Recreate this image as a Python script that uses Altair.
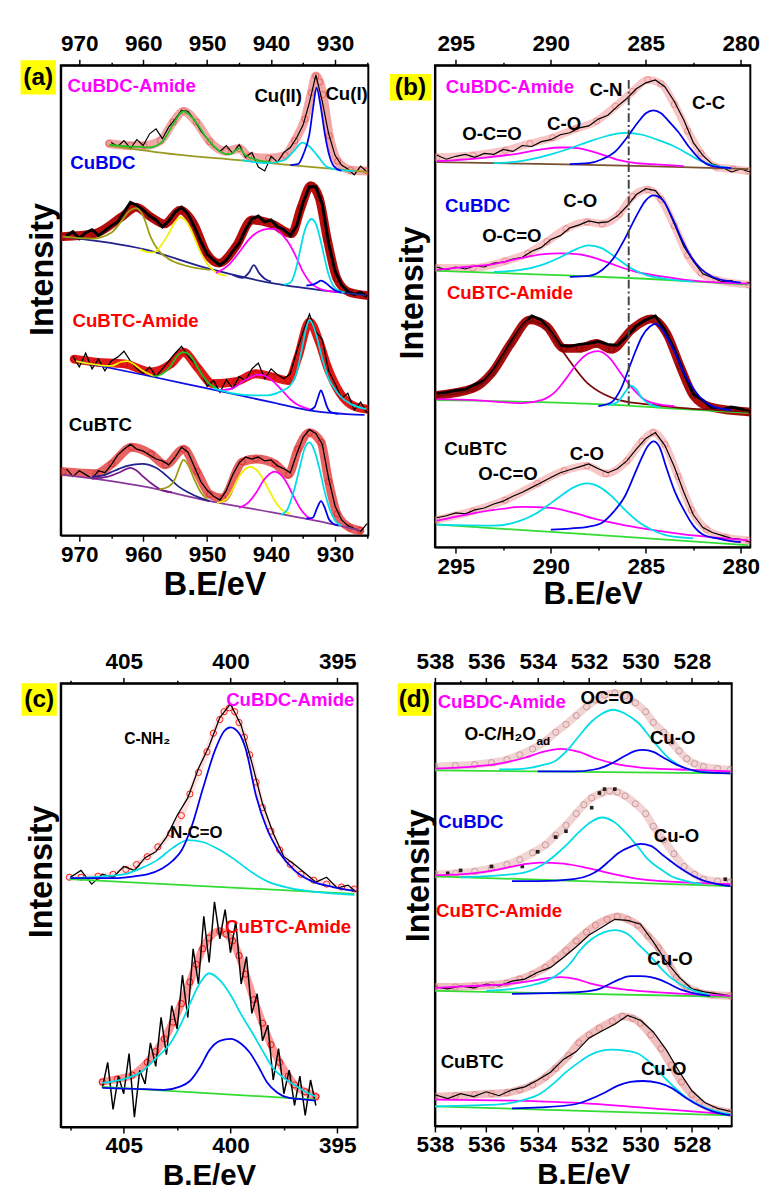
import altair as alt
import pandas as pd

FONT = "Liberation Sans"

# ------------------------------------------------------------------ (a) Cu 2p
A_RAW_X = [972, 971, 970, 969, 968, 967, 966, 965, 964, 963, 962, 961, 960, 959, 958, 957,
           956, 955, 954, 953, 952, 951, 950, 949, 948, 947, 946, 945, 944, 943, 942, 941,
           940, 939, 938, 937, 936, 935, 934, 933, 932, 931, 930, 929, 928, 927, 926, 925]
A1_RAW = [None] * 7 + [401, 397, 403, 395, 404, 398, 410, 415, 405, 417, 425, 434, 433, 424, 413, 405,
                       397, 392, 398, 390, 399, 386, 391, 376, 372, 387, 381, 391, 396, 406, 419, 442,
                       470, 443, 410, 388, 378, 374, 368, 377, 371]
A2_RAW = [306, 310, 303, 309, 312, 306, 311, 316, 320, 330, 340, 337, 332, 326, 322, 315,
          321, 330, 335, 328, 315, 300, 287, 281, 276, 281, 290, 298, 312, 323, 326, 320,
          322, 315, 312, 306, 316, 340, 356, 356, 338, 298, 270, 256, 249, 246, 248, 244]
A3_RAW = [None] + [183, 172, 186, 170, 180, 168, 178, 182, 188, 178, 170, 165, 172, 162, 170, 178,
                   186, 193, 183, 176, 167, 152, 158, 146, 159, 150, 162, 158, 170, 176, 160, 170,
                   164, 160, 165, 188, 208, 226, 208, 200, 168, 155, 140, 145, 128, 136, 125]
A4_RAW = [68, 60, 66, 62, 58, 66, 64, 72, 82, 88, 93, 88, 86, 82, 78, 76,
          72, 80, 90, 85, 70, 55, 46, 40, 36, 46, 62, 74, 80, 78, 80, 76,
          77, 71, 68, 64, 83, 100, 108, 104, 93, 58, 30, 16, 10, 7, 4, 12]

A1_ENV = [(965.3, 400), (962, 398), (959.9, 398), (957.3, 403), (955.3, 422), (953.7, 433), (951.7, 422),
          (949.6, 402), (947.1, 392), (945.0, 395), (943.5, 387), (940.4, 385), (937.8, 388), (936.3, 403),
          (934.7, 425), (933.7, 452), (933.0, 469), (932.4, 463), (931.9, 450), (930.9, 408), (929.6, 382),
          (927.6, 373), (925.0, 372)]
A1_BASE = [(965.3, 398), (955, 389), (945, 383), (937, 378), (925, 371)]
A1_GREEN = [(965.3, 399), (962, 397), (959, 396), (957, 402), (955.3, 420), (953.7, 433), (952, 424),
            (950, 405), (948, 392), (946.5, 389), (945, 395), (944, 388), (942, 383), (940, 381)]
A1_CYAN = [(944.5, 383), (940.5, 380), (938, 383), (936.5, 392), (935.1, 401), (934, 397), (932.8, 388),
           (931.2, 376), (929.2, 373), (927, 372)]
A1_BLUE = [(937, 378), (935.8, 379), (934.9, 390), (934.0, 410), (933.4, 438), (932.9, 457), (932.3, 440),
           (931.6, 410), (930.9, 388), (930.2, 377), (929, 372)]

A2_ENV = [(972.6, 305), (967.6, 308), (963.4, 325), (961.1, 335), (958.8, 325), (956.7, 318), (954.2, 332),
          (952.1, 318), (950.1, 288), (948.1, 278), (945.5, 295), (943.0, 322), (939.9, 318), (936.8, 308),
          (935.3, 335), (933.8, 357), (932.5, 345), (931.2, 302), (929.7, 262), (927.7, 248), (925.1, 245)]
A2_BASE = [(972.6, 305), (959.8, 292), (949.6, 272), (939.4, 257), (929.2, 248), (925.1, 245)]
A2_OLIVE = [(972.6, 305), (968, 303), (965, 309), (963.5, 320), (962.2, 331), (961.1, 334), (960, 326),
            (958.8, 304), (957.5, 290), (956.2, 283), (953.2, 275), (949.6, 271)]
A2_YELLOW = [(960.5, 292), (959, 289), (958.3, 289), (957.2, 296), (956.2, 306), (955.2, 318), (954.2, 325),
             (953.2, 320), (952.2, 307), (951.1, 290), (950, 277), (948.5, 268), (947, 265)]
A2_MAGENTA = [(948.6, 268), (946.5, 277), (945, 289), (943.5, 302), (942, 310), (940.5, 313), (939.5, 313),
              (938, 305), (937, 296), (936, 283), (935, 269), (934, 259), (932.5, 252), (930.5, 249), (929, 248)]
A2_NAVY = [(946, 266), (944.5, 263), (943.5, 268), (942.7, 276), (941.9, 268), (941, 262), (940, 259)]
A2_CYAN = [(938, 256), (937, 258), (936.2, 270), (935.5, 290), (934.8, 310), (934.2, 320), (933.7, 323),
           (933, 318), (932.3, 302), (931.6, 282), (931, 266), (930.3, 255), (929.5, 250), (928.5, 248)]
A2_BLUE = [(934.5, 255), (933.5, 256), (932.8, 258), (932.2, 260), (931.5, 258), (930.8, 254), (930, 250), (929, 248)]

A3_ENV = [(970.8, 180), (967.4, 177), (962.9, 175), (958.8, 167), (955.7, 175), (953.7, 187), (951.6, 172),
          (949.1, 155), (945.5, 157), (942.4, 165), (939.9, 162), (937.3, 158), (935.8, 182), (934.0, 218),
          (932.5, 198), (931.2, 172), (929.2, 145), (927.1, 132), (925.1, 129)]
A3_BASE = [(970.5, 178), (960, 164), (950, 150), (940, 136), (934.3, 128), (925.4, 123)]
A3_YELLOW = [(970.5, 178), (967, 174), (965, 173), (963.5, 177), (962.5, 178), (961.5, 175), (960.5, 170),
             (959.5, 166), (958.5, 163)]
A3_GREEN = [(958.5, 162), (957, 165), (955.7, 173), (954.7, 183), (953.7, 187), (952.7, 184), (951.7, 174),
            (950.6, 162), (949.5, 154), (948.5, 150)]
A3_MAGENTA = [(948, 148), (946, 150), (944.5, 157), (943, 162), (942, 164), (941, 163), (940, 159), (939, 153),
              (938, 146), (937, 139), (936, 134), (935, 131), (934, 129)]
A3_CYAN = [(949, 150), (946, 145), (943, 143), (940.5, 143), (938.5, 147), (937, 153), (936, 166), (935.2, 190),
           (934.5, 212), (934, 220), (933.4, 214), (932.6, 196), (931.8, 176), (931, 160), (930, 149), (929, 141),
           (927.5, 134), (925.1, 129)]
A3_BLUE = [(934, 128), (933.2, 131), (932.7, 140), (932.2, 148), (931.8, 142), (931.3, 132), (930.7, 126), (929.5, 124)]

A4_ENV = [(972.6, 65), (967.4, 63), (964.9, 73), (961.8, 90), (958.8, 83), (956.5, 72), (953.7, 88), (951.6, 65),
          (949.6, 42), (947.6, 38), (944.5, 75), (942.4, 78), (939.4, 73), (937.3, 62), (935.8, 88), (934.0, 105),
          (932.2, 95), (931.0, 55), (929.7, 22), (927.7, 8), (926.1, 5)]
A4_BASE = [(972.6, 62), (960, 50), (949.6, 35), (939.4, 23), (930, 11), (926.1, 5)]
A4_PURPLE = [(968, 58), (965.5, 60), (963.5, 65), (962, 69), (961, 66), (960, 60), (958.5, 52), (957, 46), (955.5, 44)]
A4_NAVY = [(968, 60), (966.4, 61), (964.5, 66), (962.5, 71), (960.1, 73), (958, 69), (956.2, 60), (954.5, 50),
           (953, 44), (951, 38), (949.6, 35)]
A4_OLIVE = [(957.5, 47), (956, 50), (955, 58), (954.3, 70), (953.7, 77), (953, 72), (952, 57), (951, 44), (950, 37)]
A4_YELLOW = [(948.5, 33), (947, 37), (946, 47), (945, 60), (944, 68), (943.3, 70), (942.3, 67), (941.3, 58),
             (940.3, 46), (939.3, 34), (938.3, 26), (937, 22)]
A4_MAGENTA = [(945, 28), (943.5, 34), (942.3, 44), (941.2, 56), (940.2, 63), (939.4, 65), (938.5, 62), (937.5, 53),
              (936.5, 40), (935.5, 28), (934.5, 20), (933.5, 16)]
A4_CYAN = [(938.5, 21), (937.5, 26), (936.5, 44), (935.5, 70), (934.8, 88), (934, 95), (933.2, 86), (932.4, 67),
           (931.6, 44), (930.8, 26), (930, 15), (929, 10)]
A4_BLUE = [(934.5, 17), (933.5, 18), (932.8, 28), (932.2, 35), (931.6, 28), (931, 17), (930.3, 12), (929.5, 10)]

# ------------------------------------------------------------------ (b) C 1s
B_RAW_X = [296, 295.5, 295, 294.5, 294, 293.5, 293, 292.5, 292, 291.5, 291, 290.5, 290, 289.5, 289, 288.5, 288,
           287.5, 287, 286.5, 286, 285.5, 285, 284.5, 284, 283.5, 283, 282.5, 282, 281.5, 281, 280.5, 280, 279.5]
B1_RAW = [400, 396, 399, 401, 398, 402, 401, 406, 404, 410, 409, 414, 416, 421, 423, 428, 430,
          437, 441, 450, 458, 468, 474, 477, 470, 455, 436, 413, 400, 391, 388, 383, 386, 383]
B2_RAW = [286, 283, 286, 284, 287, 286, 290, 291, 294, 296, 302, 306, 314, 318, 326, 329, 333,
          331, 332, 338, 348, 360, 366, 364, 352, 330, 307, 292, 279, 275, 271, 272, 268, 270]
B3_RAW = [157, 158, 160, 161, 166, 170, 181, 196, 212, 226, 236, 232, 220, 206, 205, 207, 208,
          210, 207, 206, 215, 226, 232, 236, 222, 202, 178, 156, 150, 142, 140, 143, 141, 138]
B4_RAW = [30, 32, 35, 34, 38, 40, 44, 47, 52, 56, 61, 66, 71, 76, 79, 82, 85,
          80, 76, 80, 88, 100, 111, 117, 104, 82, 56, 33, 20, 15, 12, 9, 8, 5]

B1_ENV = [(296.0, 398), (294.1, 400), (292.4, 405), (291.1, 412), (289.9, 418), (288.7, 427), (287.6, 435),
          (286.6, 450), (285.7, 465), (284.9, 477), (284.2, 473), (283.5, 452), (282.8, 425), (282.1, 402),
          (281.3, 388), (280.4, 386), (279.6, 384)]
B1_BASE = [(296, 393), (290, 391), (285, 389), (279.6, 386)]
B1_MAGENTA = [(296, 394), (293.3, 398), (292, 401), (290.5, 406), (289.5, 408), (289, 408), (288.5, 407),
              (287.5, 402), (286.4, 395), (285.5, 392), (284.7, 391), (283, 389)]
B1_CYAN = [(293, 392), (291.6, 394), (290, 401), (289, 407), (288, 414), (287, 420), (286.1, 423), (285.2, 421),
           (284.4, 416), (283.6, 410), (283, 404), (282.3, 396), (281.5, 390), (280.5, 387)]
B1_BLUE = [(289, 391), (288, 392), (287.3, 396), (286.6, 404), (286, 418), (285.4, 434), (285, 443), (284.6, 446),
           (284.2, 443), (283.8, 435), (283.3, 424), (282.7, 408), (282.1, 395), (281.5, 389), (280.5, 387)]

B2_ENV = [(296.0, 285), (294.1, 285), (292.4, 292), (291.2, 300), (290.2, 312), (289.2, 325), (288.1, 332),
          (287.3, 330), (286.4, 340), (285.7, 358), (284.9, 365), (284.2, 355), (283.5, 328), (282.8, 298),
          (282.1, 280), (281.3, 273), (279.6, 268)]
B2_BASE = [(296, 282), (290, 278), (285, 274), (279.6, 268)]
B2_MAGENTA = [(296, 283), (294.5, 286), (293, 289), (291.6, 295), (290.5, 299), (289.5, 300), (288.5, 299),
              (287.5, 294), (286.5, 287), (285.5, 281), (284, 276), (282.5, 272), (281, 270), (279.6, 269)]
B2_CYAN = [(293, 281), (291.6, 283), (290.5, 288), (289.5, 296), (288.8, 303), (288, 308), (287.3, 305),
           (286.6, 296), (285.8, 285), (285, 278), (284, 274), (282.5, 271)]
B2_BLUE = [(289, 276), (288, 277), (287.3, 283), (286.7, 295), (286.1, 315), (285.5, 338), (285, 354), (284.6, 359),
           (284.1, 354), (283.6, 336), (283.1, 314), (282.6, 296), (282.1, 284), (281.5, 276), (280.8, 272), (280, 270)]

B3_ENV = [(296.0, 155), (294.1, 162), (293.1, 178), (292.1, 208), (291.1, 232), (290.2, 225), (289.3, 203),
          (288.5, 203), (287.6, 208), (286.8, 202), (285.7, 223), (284.7, 233), (283.9, 218), (283.2, 185),
          (282.5, 155), (281.6, 143), (279.6, 138)]
B3_BASE = [(296, 150), (286.4, 145), (284, 142), (279.6, 137)]
B3_BROWN = [(296, 154), (294.1, 161), (293.1, 177), (292.1, 207), (291.1, 231), (290.2, 223), (289.3, 198),
            (288.1, 168), (287.2, 156), (286.4, 150), (284.5, 145), (283, 142), (281.3, 140), (279.6, 138)]
B3_MAGENTA = [(296, 151), (294, 150), (292.5, 148), (291.5, 147), (290.5, 150), (289.8, 158), (289.2, 172),
              (288.6, 188), (288, 198), (287.5, 200), (286.9, 193), (286.3, 177), (285.7, 162), (285.1, 151),
              (284.4, 146), (283.5, 144)]
B3_CYAN = [(287, 145), (286.5, 148), (286.1, 158), (285.8, 165), (285.5, 161), (285.2, 152), (284.8, 146), (284.3, 143)]
B3_BLUE = [(287.5, 144), (286.8, 148), (286.3, 162), (285.9, 182), (285.5, 202), (285.2, 215), (284.8, 225),
           (284.5, 228), (284.2, 224), (283.9, 215), (283.4, 196), (283, 178), (282.5, 162), (282.1, 152),
           (281.5, 144), (280.5, 140)]

B4_ENV = [(296.0, 28), (294.1, 37), (292.4, 48), (290.7, 65), (289.3, 78), (288.1, 83), (287.1, 75), (286.0, 88),
          (285.2, 108), (284.6, 117), (284.0, 105), (283.3, 72), (282.6, 38), (281.8, 18), (280.8, 10), (279.6, 7)]
B4_BASE = [(296, 23), (288, 13), (279.6, 2)]
B4_MAGENTA = [(296, 27), (294.5, 33), (293, 38), (291.5, 41), (290, 40), (288.8, 35), (287.5, 28), (286, 22),
              (284.5, 17), (283, 13), (281.5, 10), (279.6, 7)]
B4_CYAN = [(296, 23), (293, 22), (291.6, 27), (290.8, 34), (290.2, 42), (289.5, 52), (288.8, 61), (288.1, 65),
           (287.4, 61), (286.8, 52), (286.1, 38), (285.4, 26), (284.6, 17), (283.9, 12), (282.5, 9)]
B4_BLUE = [(290, 18), (289, 19), (288, 21), (287.3, 25), (286.7, 36), (286.1, 52), (285.6, 74), (285.2, 92),
           (284.9, 103), (284.6, 108), (284.3, 103), (283.9, 80), (283.5, 58), (283, 38), (282.5, 22), (282, 13),
           (281, 8), (280, 5)]

# ------------------------------------------------------------------ (c) N 1s
C1_RAW_X = [407.5, 407, 406.5, 406, 405.5, 405, 404.5, 404, 403.5, 403, 402.5, 402, 401.5, 401, 400.5, 400,
            399.5, 399, 398.5, 398, 397.5, 397, 396.5, 396, 395.5, 395, 394.5, 394.1]
C1_RAW = [255, 262, 248, 258, 255, 266, 262, 275, 281, 296, 318, 336, 366, 389, 418, 432,
          410, 372, 330, 300, 276, 268, 259, 250, 255, 244, 247, 240]
C2_RAW_X = [406, 405.75, 405.5, 405.25, 405, 404.75, 404.5, 404.25, 404, 403.75, 403.5, 403.25, 403, 402.75,
            402.5, 402.25, 402, 401.75, 401.5, 401.25, 401, 400.75, 400.5, 400.25, 400, 399.75, 399.5, 399.25,
            399, 398.75, 398.5, 398.25, 398, 397.75, 397.5, 397.25, 397, 396.75, 396.5, 396.25, 396]
C2_RAW = [40, 66, 18, 52, 34, 75, 10, 58, 44, 86, 62, 112, 74, 124, 100, 155, 112, 182, 146, 215, 168,
          230, 192, 222, 178, 210, 146, 174, 116, 136, 88, 104, 48, 80, 34, 58, 22, 52, 12, 48, 22]

C1_ENV = [(407.55, 255), (407, 255), (406.2, 256), (405.5, 258), (404.9, 263), (404.4, 268), (403.9, 276),
          (403.4, 286), (402.8, 300), (402.3, 318), (401.9, 340), (401.5, 362), (401.1, 383), (400.8, 402),
          (400.5, 416), (400.3, 424), (400.05, 428), (399.8, 424), (399.6, 413), (399.35, 398), (399.1, 380),
          (398.8, 352), (398.5, 326), (398.1, 302), (397.7, 283), (397.2, 268), (396.7, 258), (396.1, 252),
          (395.5, 248), (394.8, 245), (394.2, 243)]
C1_BASE = [(407.55, 253), (394.2, 238)]
C1_CYAN = [(407.5, 254), (406, 256), (405, 258), (404.2, 264), (403.4, 273), (402.7, 285), (402, 293), (401.3, 291),
           (400.6, 284), (399.8, 273), (399, 260), (398.2, 250), (397.2, 244), (396, 240), (394.2, 237)]
C1_BLUE = [(407.5, 254), (405.5, 254), (404.5, 256), (403.9, 258), (403.2, 264), (402.7, 272), (402.3, 282),
           (401.8, 308), (401.3, 345), (400.7, 386), (400.3, 404), (400, 408), (399.6, 402), (399.3, 387),
           (398.8, 338), (398.3, 305), (397.7, 280), (397, 262), (396.2, 251), (395.2, 245), (394.2, 241)]

C2_ENV = [(406.0, 46), (405.3, 49), (404.6, 53), (403.9, 66), (403.5, 77), (403.1, 90), (402.7, 107), (402.3, 126),
          (401.9, 148), (401.6, 166), (401.3, 182), (401.0, 193), (400.5, 200), (400.2, 197), (399.9, 190),
          (399.6, 175), (399.3, 156), (398.9, 130), (398.5, 106), (398.1, 84), (397.7, 66), (397.3, 52),
          (397.0, 43), (396.5, 36), (396.0, 31)]
C2_BASE = [(406, 41), (396, 28)]
C2_CYAN = [(406, 45), (405, 49), (404.2, 56), (403.5, 70), (402.8, 86), (402.3, 106), (401.9, 126), (401.4, 148),
           (401, 157), (400.5, 150), (400, 135), (399.5, 115), (399, 97), (398.5, 78), (398, 60), (397.5, 50),
           (397, 43), (396.5, 36), (396, 31)]
C2_BLUE = [(406, 40), (404.5, 39), (403.1, 38), (402.4, 41), (401.9, 47), (401.4, 62), (401, 78), (400.5, 88),
           (400, 90), (399.5, 85), (399.1, 76), (398.7, 62), (398.3, 46), (397.8, 35), (397.3, 30), (396.5, 28), (396, 27)]

# ------------------------------------------------------------------ (d) O 1s
D_RAW_X = [538, 537.5, 537, 536.5, 536, 535.5, 535, 534.5, 534, 533.5, 533, 532.5, 532, 531.5, 531, 530.5,
           530, 529.5, 529, 528.5, 528, 527.5, 527, 526.5]
D3_RAW = [142, 140, 143, 141, 145, 143, 148, 150, 157, 162, 172, 183, 195, 203, 211, 210,
          206, 188, 168, 152, 140, 137, 135, 133]
D4_RAW = [32, 28, 33, 30, 35, 31, 37, 40, 47, 55, 68, 76, 90, 97, 104, 113,
          108, 96, 78, 56, 36, 24, 18, 15]
D2_DOTS = [(537.5, 258), (537.0, 261), (535.8, 265), (534.6, 265), (534.0, 280), (533.3, 295), (532.9, 301),
           (531.9, 325), (531.6, 340), (531.4, 344), (531.0, 344), (526.7, 252)]

D1_ENV = [(538.0, 367), (537.2, 368), (536.45, 369), (535.8, 371), (535.2, 374), (534.7, 379), (534.2, 385),
          (533.7, 393), (533.3, 402), (532.9, 410), (532.5, 419), (532.1, 428), (531.75, 435), (531.4, 440),
          (531.0, 442), (530.6, 439), (530.2, 432), (529.8, 423), (529.5, 412), (529.1, 402), (528.8, 392),
          (528.5, 383), (528.2, 375), (527.9, 370), (527.55, 367), (527, 365), (526.5, 364)]
D1_BASE = [(538, 363), (526.5, 360)]
D1_MAGENTA = [(538, 365), (536.5, 367), (535.5, 370), (534.5, 376), (533.8, 382), (533.1, 385), (532.4, 382),
              (531.7, 375), (531, 370), (530, 366), (528.5, 364), (526.5, 362)]
D1_CYAN = [(535.5, 364), (534.5, 365), (533.9, 368), (533.3, 373), (532.8, 385), (532.4, 398), (531.9, 413),
           (531.5, 421), (531.05, 425), (530.6, 421), (530.1, 412), (529.5, 393), (529, 378), (528.6, 370),
           (528, 363), (527.3, 361)]
D1_BLUE = [(534, 362), (532.6, 362), (531.8, 364), (531.4, 367), (531, 372), (530.6, 378), (530.2, 383),
           (529.9, 384), (529.5, 382), (529.1, 376), (528.6, 369), (528.2, 365), (527.5, 361), (526.5, 360)]

D2_ENV = [(538, 257), (537.2, 258), (536.45, 260), (535.8, 263), (535.2, 267), (534.7, 272), (534.2, 279),
          (533.7, 287), (533.3, 297), (532.9, 307), (532.5, 319), (532.2, 328), (531.9, 335), (531.5, 340),
          (531.2, 342), (530.9, 341), (530.6, 337), (530.2, 329), (529.8, 319), (529.5, 306), (529.1, 292),
          (528.7, 278), (528.3, 265), (527.9, 257), (527.55, 252), (527, 250), (526.5, 249)]
D2_BASE = [(538, 255), (526.5, 245)]
D2_MAGENTA = [(538, 256), (536.5, 258), (535.5, 262), (534.6, 267), (533.9, 269), (533, 268), (532, 263),
              (531, 257), (530, 252), (528.5, 249), (526.5, 247)]
D2_CYAN = [(537, 254), (535.5, 256), (534.5, 259), (533.8, 267), (533.3, 277), (532.8, 289), (532.4, 300),
           (531.9, 311), (531.5, 315), (531, 310), (530.6, 300), (530.1, 285), (529.7, 272), (529.2, 262),
           (528.8, 255), (528.2, 250), (527.6, 247)]
D2_BLUE = [(535, 250), (533.9, 250), (532.6, 252), (532, 256), (531.6, 262), (531.2, 271), (530.9, 278),
           (530.4, 285), (530, 288), (529.6, 286), (529.1, 276), (528.6, 266), (528.2, 259), (527.6, 251),
           (527, 247), (526.5, 245)]

D3_ENV = [(538, 142), (537.2, 142), (536.45, 143), (535.8, 144), (535.2, 146), (534.7, 150), (534.2, 155),
          (533.7, 162), (533.3, 170), (532.9, 179), (532.5, 189), (532.1, 198), (531.75, 205), (531.3, 211),
          (530.9, 214), (530.5, 211), (530.1, 205), (529.7, 194), (529.3, 182), (528.9, 166), (528.6, 152),
          (528.2, 142), (527.8, 137), (527.2, 134), (526.5, 133)]
D3_BASE = [(538, 138), (526.5, 132)]
D3_MAGENTA = [(538, 141), (536.5, 143), (535.2, 145), (534.3, 148), (533.6, 151), (533.1, 152), (532.5, 150),
              (532, 146), (531.3, 142), (530.5, 139), (529, 136), (526.5, 133)]
D3_CYAN = [(536, 138), (535, 140), (534.2, 144), (533.6, 149), (533.15, 156), (532.7, 167), (532.4, 178),
           (531.9, 191), (531.4, 198), (531, 200), (530.5, 196), (530.1, 186), (529.6, 173), (529.2, 161),
           (528.8, 151), (528.4, 144), (527.9, 138), (527.3, 134)]
D3_BLUE = [(535, 135), (533.3, 136), (532.3, 137), (531.6, 140), (531.2, 145), (530.8, 150), (530.4, 153),
           (530, 153), (529.6, 152), (529.2, 149), (528.8, 144), (528.4, 139), (528, 136), (527.3, 133)]

D4_ENV = [(538, 30), (537.2, 31), (536.45, 32), (535.8, 33), (535.2, 34), (534.7, 37), (534.2, 42), (533.7, 50),
          (533.3, 59), (532.8, 72), (532.4, 85), (532, 93), (531.6, 100), (531.1, 107), (530.7, 112), (530.3, 110),
          (530.0, 105), (529.6, 93), (529.2, 79), (528.8, 62), (528.4, 45), (528, 32), (527.7, 24), (527.1, 17),
          (526.5, 14)]
D4_BASE = [(538, 20), (526.5, 11)]
D4_MAGENTA = [(538, 27), (535, 26), (532, 23), (529, 17), (526.5, 12)]
D4_CYAN = [(538, 20), (536.5, 21), (535.2, 23), (534.5, 27), (533.9, 33), (533.4, 43), (532.9, 55), (532.4, 65),
           (532, 72), (531.5, 77), (531.1, 78), (530.6, 77), (530.1, 74), (529.6, 64), (529.2, 53), (528.7, 40),
           (528.2, 29), (527.5, 19), (526.5, 12)]
D4_BLUE = [(535, 18), (533.9, 19), (532.6, 22), (532, 27), (531.4, 34), (530.9, 41), (530.4, 45), (529.9, 46),
           (529.3, 44), (528.8, 39), (528.3, 30), (527.8, 22), (527.2, 15), (526.5, 11)]

# ------------------------------------------------------------------ text labels (text, eV, intensity)
A_LABELS = [("CuBDC-Amide", 961.8, 459), ("Cu(II)", 938.9, 448), ("Cu(I)", 928.2, 450),
            ("CuBDC", 966.3, 380), ("CuBTC-Amide", 961.2, 219), ("CuBTC", 966.7, 113)]
B_LABELS = [("CuBDC-Amide", 292.15, 470), ("C-N", 287.1, 467), ("C-C", 281.7, 453), ("C-O", 289.3, 432),
            ("O-C=O", 293.1, 422), ("CuBDC", 293.85, 348), ("C-O", 288.45, 353), ("O-C=O", 292.05, 318),
            ("CuBTC-Amide", 292.15, 259), ("CuBTC", 293.95, 100), ("C-O", 288.1, 95), ("O-C=O", 292.25, 75)]
C_LABELS = [("CuBDC-Amide", 397.2, 436), ("C-NH₂", 403.9, 396), ("N-C=O", 401.6, 300), ("CuBTC-Amide", 397.3, 204)]
D_LABELS = [("CuBDC-Amide", 535.4, 433), ("OC=O", 531.3, 437), ("O-C/H₂O", 535.46, 399), ("ad", 533.78, 393),
            ("Cu-O", 528.75, 396), ("CuBDC", 536.6, 310), ("Cu-O", 528.6, 296), ("CuBTC-Amide", 535.5, 219),
            ("Cu-O", 528.85, 170), ("CuBTC", 536.55, 65), ("Cu-O", 529.1, 58)]
B_DASH = [(285.9, 145), (285.9, 480)]

# ------------------------------------------------------------------ styles
CYAN, BLUE, MAG, YEL = "#00dde6", "#0000ee", "#ff00ff", "#f0f000"
OLIVE, GREEN, NAVY, PURPLE, BROWN, LGREEN = "#9c9c10", "#22c022", "#22228c", "#7a1a8a", "#7a0a0a", "#33dd33"
RED, BLACK = "#ff0000", "#000000"

SPECTRA = {
    "a": [
        dict(cid="a1", env=A1_ENV, band=("#e65050", 0.5, 9), circ=("#e03030", 0.6), raw=(A_RAW_X, A1_RAW, 1.2),
             comps=[(A1_BASE, "#9a9a22"), (A1_GREEN, GREEN), (A1_CYAN, CYAN), (A1_BLUE, BLUE)]),
        dict(cid="a2", env=A2_ENV, band=("#b40000", 0.95, 9), circ=("#8a0000", 0.8), raw=(A_RAW_X, A2_RAW, 3),
             comps=[(A2_BASE, NAVY), (A2_OLIVE, OLIVE), (A2_YELLOW, YEL), (A2_MAGENTA, MAG), (A2_NAVY, NAVY),
                    (A2_CYAN, CYAN), (A2_BLUE, BLUE)]),
        dict(cid="a3", env=A3_ENV, band=("#e00000", 0.9, 9), circ=("#c00000", 0.7), raw=(A_RAW_X, A3_RAW, 1.3),
             comps=[(A3_BASE, "#1010e0"), (A3_YELLOW, YEL), (A3_GREEN, GREEN), (A3_MAGENTA, MAG), (A3_CYAN, CYAN),
                    (A3_BLUE, BLUE)]),
        dict(cid="a4", env=A4_ENV, band=("#e02020", 0.7, 9), circ=("#d01010", 0.6), raw=(A_RAW_X, A4_RAW, 1.3),
             comps=[(A4_BASE, "#8a3a9a"), (A4_PURPLE, PURPLE), (A4_NAVY, NAVY), (A4_OLIVE, OLIVE), (A4_YELLOW, YEL),
                    (A4_MAGENTA, MAG), (A4_CYAN, CYAN), (A4_BLUE, BLUE)]),
    ],
    "b": [
        dict(cid="b1", env=B1_ENV, band=("#f08080", 0.45, 8), circ=("#e05050", 0.5), raw=(B_RAW_X, B1_RAW, 1.2),
             comps=[(B1_BASE, "#7a5030"), (B1_MAGENTA, MAG), (B1_CYAN, CYAN), (B1_BLUE, BLUE)]),
        dict(cid="b2", env=B2_ENV, band=("#f08080", 0.45, 8), circ=("#e05050", 0.5), raw=(B_RAW_X, B2_RAW, 1.2),
             comps=[(B2_BASE, LGREEN), (B2_MAGENTA, MAG), (B2_CYAN, CYAN), (B2_BLUE, BLUE)]),
        dict(cid="b3", env=B3_ENV, band=("#a80000", 0.95, 9), circ=("#800000", 0.8), raw=(B_RAW_X, B3_RAW, 3),
             comps=[(B3_BASE, LGREEN), (B3_BROWN, BROWN), (B3_MAGENTA, MAG), (B3_CYAN, CYAN), (B3_BLUE, BLUE)]),
        dict(cid="b4", env=B4_ENV, band=("#f08080", 0.45, 8), circ=("#e05050", 0.5), raw=(B_RAW_X, B4_RAW, 1.2),
             comps=[(B4_BASE, LGREEN), (B4_MAGENTA, MAG), (B4_CYAN, CYAN), (B4_BLUE, BLUE)]),
    ],
    "c": [
        dict(cid="c1", env=C1_ENV, band=("#ff6060", 0.2, 6), circ=("#ff0000", 0.9), raw=(C1_RAW_X, C1_RAW, 1.3),
             comps=[(C1_BASE, LGREEN), (C1_CYAN, CYAN), (C1_BLUE, BLUE)]),
        dict(cid="c2", env=C2_ENV, band=("#ff3030", 0.5, 8), circ=("#ee0000", 0.9), raw=(C2_RAW_X, C2_RAW, 1.5),
             comps=[(C2_BASE, LGREEN), (C2_CYAN, CYAN), (C2_BLUE, BLUE)]),
    ],
    "d": [
        dict(cid="d1", env=D1_ENV, band=("#e0a0a0", 0.45, 8), circ=("#c08080", 0.7), raw=None,
             comps=[(D1_BASE, LGREEN), (D1_MAGENTA, MAG), (D1_CYAN, CYAN), (D1_BLUE, BLUE)]),
        dict(cid="d2", env=D2_ENV, band=("#e0a0a0", 0.45, 8), circ=("#c08080", 0.7), raw=None,
             comps=[(D2_BASE, LGREEN), (D2_MAGENTA, MAG), (D2_CYAN, CYAN), (D2_BLUE, BLUE)]),
        dict(cid="d3", env=D3_ENV, band=("#e08080", 0.5, 8), circ=("#d06060", 0.6), raw=(D_RAW_X, D3_RAW, 1.2),
             comps=[(D3_BASE, LGREEN), (D3_MAGENTA, MAG), (D3_CYAN, CYAN), (D3_BLUE, BLUE)]),
        dict(cid="d4", env=D4_ENV, band=("#e08080", 0.5, 8), circ=("#d06060", 0.6), raw=(D_RAW_X, D4_RAW, 1.2),
             comps=[(D4_BASE, LGREEN), (D4_MAGENTA, MAG), (D4_CYAN, CYAN), (D4_BLUE, BLUE)]),
    ],
}

LABEL_STYLE = {
    "a": dict(cols=[MAG, BLACK, BLACK, BLUE, RED, BLACK], sizes=[19] * 6, data=A_LABELS),
    "b": dict(cols=[MAG, BLACK, BLACK, BLACK, BLACK, BLUE, BLACK, BLACK, RED, BLACK, BLACK, BLACK],
              sizes=[19] * 12, data=B_LABELS),
    "c": dict(cols=[MAG, BLACK, BLACK, RED], sizes=[19, 16, 17, 19], data=C_LABELS),
    "d": dict(cols=[MAG, BLACK, BLACK, BLACK, BLACK, BLUE, BLACK, RED, BLACK, BLACK, BLACK],
              sizes=[19, 19, 18, 12, 19, 19, 19, 19, 19, 19, 19], data=D_LABELS),
}

PANEL_CFG = {
    "a": dict(xdom=[924.8, 972.9], w=314, h=480, ticks=[925, 930, 935, 940, 945, 950, 955, 960, 965, 970], mod=10,
              tx=-8, ty=208, xty=60, xfs=33, lpad=3, letter="(a)", box=(-41, -5, -5, 30), extra=None),
    "b": dict(xdom=[279.5, 296.1], w=322, h=492, ticks=[280, 282.5, 285, 287.5, 290, 292.5, 295], mod=5,
              tx=-13, ty=232, xty=58, xfs=32, lpad=3, letter="(b)", box=(-46, -4, 9, 36), extra=None),
    "c": dict(xdom=[394.05, 407.95], w=303, h=453, ticks=[395, 397.5, 400, 402.5, 405, 407.5], mod=5,
              tx=-9, ty=192, xty=59, xfs=30, lpad=2, letter="(c)", box=(-40, -4, 0, 33), extra=-54),
    "d": dict(xdom=[526.45, 538.0], w=303, h=452, ticks=[527, 528, 529, 530, 531, 532, 533, 534, 535, 536, 537, 538],
              mod=2, tx=-7, ty=196, xty=59, xfs=30, lpad=2, letter="(d)", box=(-38, -4, 0, 33), extra=None),
}

ONE = pd.DataFrame({"k": [0]})


def build_frames(key):
    env, comp, raw = [], [], []
    for s in SPECTRA[key]:
        bcol, bop, bw = s["band"]
        ccol, cop = s["circ"]
        for x, y in s["env"]:
            env.append(dict(cid=s["cid"], x=x, y=y, col=bcol, op=bop, w=bw, ccol=ccol, cop=cop))
        for j, (pts, col) in enumerate(s["comps"]):
            for x, y in pts:
                comp.append(dict(cid=f"{s['cid']}_{j}", x=x, y=y, col=col))
        if s["raw"] is not None:
            rx, ry, rw = s["raw"]
            for x, y in zip(rx, ry):
                if y is not None:
                    raw.append(dict(cid=s["cid"], x=x, y=y, w=rw))
    return pd.DataFrame(env), pd.DataFrame(comp), pd.DataFrame(raw)


def panel(key):
    P = PANEL_CFG[key]
    xsc = alt.Scale(domain=P["xdom"], reverse=True, nice=False, zero=False)
    ysc = alt.Scale(domain=[0, P["h"]], nice=False, zero=False)
    yax = alt.Axis(title="Intensity", labels=False, ticks=False, titleX=P["tx"], titleY=P["ty"], titleAngle=270,
                   titleBaseline="alphabetic", titleAlign="center", titleFontSize=33, titleFontWeight="bold")
    Y = alt.Y("y:Q", scale=ysc, axis=yax)

    def X(orient=None):
        if orient is None:
            return alt.X("x:Q", scale=xsc, axis=None)
        m = P["mod"]
        kw = dict(orient=orient, values=P["ticks"],
                  labelExpr=f"datum.value % {m} === 0 ? datum.label : ''",
                  tickSize={"condition": {"test": f"datum.value % {m} === 0", "value": 6}, "value": 3},
                  labelFlush=False, labelOverlap=False)
        if orient == "bottom":
            kw.update(title="B.E/eV", titleY=P["xty"], titleBaseline="alphabetic", titleFontSize=P["xfs"],
                      labelPadding=P["lpad"])
        else:
            kw.update(title=None, labelPadding=4)
        return alt.X("x:Q", scale=xsc, axis=alt.Axis(**kw))

    envdf, compdf, rawdf = build_frames(key)
    L = LABEL_STYLE[key]
    labdf = pd.DataFrame({"t": [d[0] for d in L["data"]], "x": [d[1] for d in L["data"]],
                          "y": [d[2] for d in L["data"]], "col": L["cols"], "fs": L["sizes"]})

    layers = [
        alt.Chart(envdf).mark_line(interpolate="monotone", clip=True, strokeCap="round").encode(
            x=X("bottom"), y=Y, color=alt.Color("col:N", scale=None), opacity=alt.Opacity("op:Q", scale=None),
            strokeWidth=alt.StrokeWidth("w:Q", scale=None), detail="cid:N"),
        alt.Chart(envdf).mark_point(shape="circle", filled=False, size=40, strokeWidth=1, clip=True).encode(
            x=X("top"), y=Y, color=alt.Color("ccol:N", scale=None), opacity=alt.Opacity("cop:Q", scale=None)),
    ]
    if len(rawdf):
        layers.append(alt.Chart(rawdf).mark_line(color="black", clip=True).encode(
            x=X(), y=Y, strokeWidth=alt.StrokeWidth("w:Q", scale=None), detail="cid:N"))
    if key == "d":
        dots = pd.DataFrame({"x": [p[0] for p in D2_DOTS], "y": [p[1] for p in D2_DOTS]})
        layers.append(alt.Chart(dots).mark_square(size=14, color="black", opacity=0.85).encode(x=X(), y=Y))
    layers.append(alt.Chart(compdf).mark_line(interpolate="monotone", strokeWidth=1.8, clip=True).encode(
        x=X(), y=Y, color=alt.Color("col:N", scale=None), detail="cid:N"))
    if key == "b":
        dash = pd.DataFrame({"x": [B_DASH[0][0]], "y": [B_DASH[0][1]], "y2": [B_DASH[1][1]]})
        layers.append(alt.Chart(dash).mark_rule(color="#444444", strokeWidth=2, strokeDash=[9, 3, 2, 3]).encode(
            x=X(), y=Y, y2="y2:Q"))
    layers.append(alt.Chart(labdf).mark_text(fontWeight="bold", font=FONT).encode(
        x=X(), y=Y, text="t:N", color=alt.Color("col:N", scale=None), size=alt.Size("fs:Q", scale=None)))
    x1, x2, y1, y2 = P["box"]
    layers.append(alt.Chart(ONE).mark_rect(color="#ffff00").encode(
        x=alt.value(x1), x2=alt.value(x2), y=alt.value(y1), y2=alt.value(y2)))
    layers.append(alt.Chart(ONE).mark_text(text=P["letter"], fontSize=25, fontWeight="bold", font=FONT,
                                           color="black", baseline="middle", align="center").encode(
        x=alt.value((x1 + x2) / 2), y=alt.value((y1 + y2) / 2)))
    if P["extra"] is not None:
        layers.append(alt.Chart(ONE).mark_rect(opacity=0).encode(
            x=alt.value(P["extra"]), x2=alt.value(P["extra"] + 3), y=alt.value(0), y2=alt.value(5)))
    return alt.layer(*layers).resolve_axis(x="independent").properties(width=P["w"], height=P["h"])


row1 = alt.hconcat(panel("a"), panel("b"), spacing=20)
row2 = alt.hconcat(panel("c"), panel("d"), spacing=39)
chart = alt.vconcat(row1, row2, spacing=40).properties(
    padding={"left": 7, "top": 20, "right": 5, "bottom": 0}, background="white"
).configure_view(stroke="black", strokeWidth=2).configure_axis(
    domainColor="black", domainWidth=2, tickColor="black", tickWidth=1.5, labelFont=FONT, labelFontSize=23,
    labelFontWeight="bold", labelColor="black", titleFont=FONT, titleColor="black", titleFontSize=33,
    titleFontWeight="bold", grid=False)

chart.save("out.html", embed_options={"renderer": "svg", "actions": False})
